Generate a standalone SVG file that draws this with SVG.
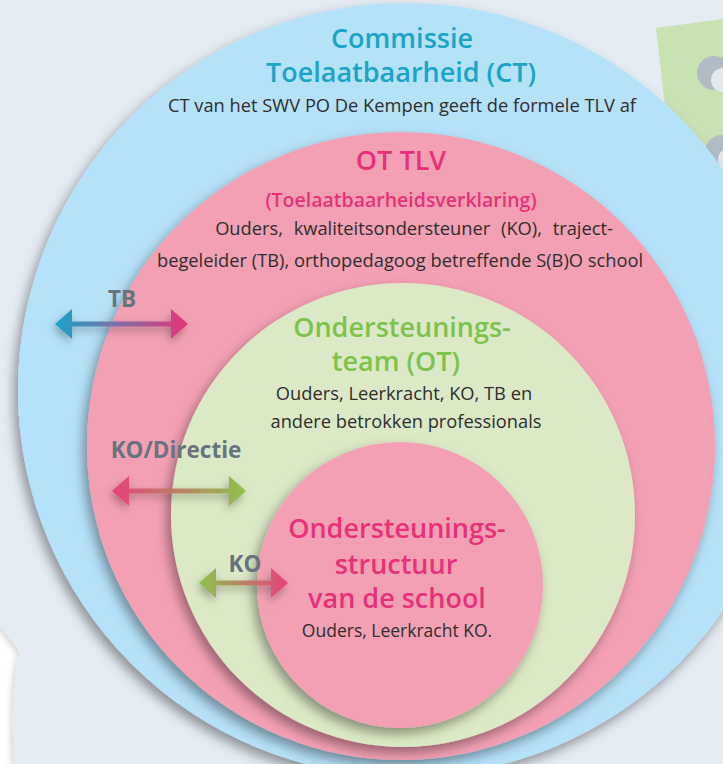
<svg xmlns="http://www.w3.org/2000/svg" width="723" height="764" viewBox="0 0 723 764">
<defs>
<filter id="sh" x="-20%" y="-20%" width="140%" height="140%">
<feDropShadow dx="-4" dy="6" stdDeviation="6" flood-color="#000" flood-opacity="0.38"/>
</filter>
<filter id="ash" x="-20%" y="-60%" width="140%" height="220%">
<feDropShadow dx="-2" dy="4" stdDeviation="4" flood-color="#000" flood-opacity="0.3"/>
</filter>
<filter id="bsh" x="-10%" y="-10%" width="120%" height="120%">
<feDropShadow dx="-2" dy="2" stdDeviation="3" flood-color="#000" flood-opacity="0.18"/>
</filter>
<linearGradient id="gTB" x1="0" y1="0" x2="1" y2="0">
<stop offset="0" stop-color="#1aa3c8"/><stop offset="1" stop-color="#e8347a"/>
</linearGradient>
<linearGradient id="gKD" x1="0" y1="0" x2="1" y2="0">
<stop offset="0" stop-color="#e8407c"/><stop offset="1" stop-color="#8dc34e"/>
</linearGradient>
<linearGradient id="gKO" x1="0" y1="0" x2="1" y2="0">
<stop offset="0" stop-color="#8dc34e"/><stop offset="1" stop-color="#e8407c"/>
</linearGradient>
<style>
.t{font-family:"Open Sans","Noto Sans","Liberation Sans",sans-serif;text-anchor:middle}
.ttl{font-size:27px;font-weight:600}
.body{font-size:18.3px;fill:#2e2e2e}
.lbl{font-size:22.5px;font-weight:700;fill:#67737d}
</style>
</defs>
<rect width="723" height="764" fill="#ffffff"/>
<path d="M0,0 H723 V764 H14 C12,720 12,680 20,652 L0,626 Z" fill="#e4ebf3" filter="url(#bsh)"/>
<g id="paper">
<polygon points="656,28 723,19 723,320 690,320" fill="#c9e2b2"/>
<circle cx="714" cy="73" r="17" fill="#b1bcc4"/>
<circle cx="723" cy="80" r="12" fill="#e2eaf0"/>
<circle cx="722" cy="152" r="17" fill="#b1bcc4"/>
<circle cx="730" cy="160" r="12" fill="#e2eaf0"/>
</g>
<g id="ct">
<circle cx="405" cy="390" r="387" fill="#b4e2f8" filter="url(#sh)"/>
<text class="t ttl" x="402" y="48" fill="#1ba4c8">Commissie</text>
<text class="t ttl" x="401" y="82" fill="#1ba4c8">Toelaatbaarheid (CT)</text>
<text class="t body" x="402" y="112">CT van het SWV PO De Kempen geeft de formele TLV af</text>
</g>
<g id="ottlv">
<circle cx="401" cy="446" r="314" fill="#f4a0b4" filter="url(#sh)"/>
<text class="t" x="401" y="170" font-size="27" font-weight="600" fill="#e8317a">OT TLV</text>
<text class="t" x="401" y="207" font-size="19.5" font-weight="600" fill="#e8317a">(Toelaatbaarheidsverklaring)</text>
<text class="t body" x="414" y="235" word-spacing="6">Ouders, kwaliteitsondersteuner (KO), traject-</text>
<text class="t body" x="400" y="267">begeleider (TB), orthopedagoog betreffende S(B)O school</text>
</g>
<g id="ot">
<circle cx="403" cy="515" r="232" fill="#dce9c6" filter="url(#sh)"/>
<text class="t ttl" x="402" y="337" fill="#7dc34b">Ondersteunings-</text>
<text class="t ttl" x="396" y="371" fill="#7dc34b">team (OT)</text>
<text class="t body" x="404" y="400">Ouders, Leerkracht, KO, TB en</text>
<text class="t body" x="406" y="428">andere betrokken professionals</text>
</g>
<g id="school">
<circle cx="400" cy="585" r="143" fill="#f4a0b4" filter="url(#sh)"/>
<text class="t ttl" x="397" y="538" fill="#e8317a">Ondersteunings-</text>
<text class="t ttl" x="396" y="574" fill="#e8317a">structuur</text>
<text class="t ttl" x="397" y="608" fill="#e8317a">van de school</text>
<text class="t" x="397" y="637" font-size="17.5" fill="#2e2e2e">Ouders, Leerkracht KO.</text>
</g>
<g id="connectors">
<g filter="url(#ash)">
<path d="M55,324 L72,309 V321.5 H171 V309 L188,324 L171,339 V326.5 H72 V339 Z" fill="url(#gTB)"/>
</g>
<g filter="url(#ash)">
<path d="M112,491 L129,476 V488.5 H229 V476 L246,491 L229,506 V493.5 H129 V506 Z" fill="url(#gKD)"/>
</g>
<g filter="url(#ash)">
<path d="M199,583 L216,568 V580.5 H271 V568 L288,583 L271,598 V585.5 H216 V598 Z" fill="url(#gKO)"/>
</g>
<text class="t lbl" x="122" y="307">TB</text>
<text class="t lbl" x="176" y="458">KO/Directie</text>
<text class="t lbl" x="245" y="572">KO</text>
</g>
</svg>
